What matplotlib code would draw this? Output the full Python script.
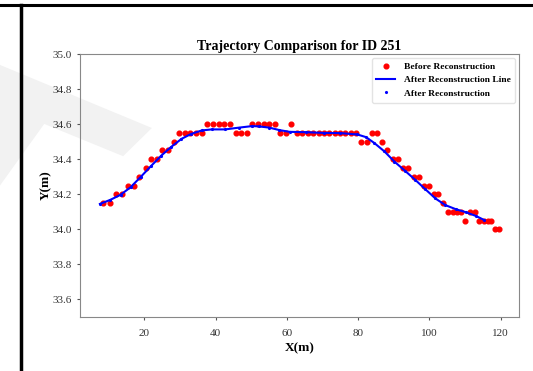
import numpy as np
import matplotlib
matplotlib.use('Agg')
import matplotlib.pyplot as plt
from matplotlib.patches import Polygon
from matplotlib.lines import Line2D

plt.rcParams['font.family'] = ['Liberation Serif', 'DejaVu Serif']

# raw trajectory samples (before reconstruction)
x_before = [8.5, 10.2, 12.0, 13.6, 15.3, 17.0, 18.6, 20.3, 21.8, 23.4,
            25.0, 26.7, 28.2, 29.7, 31.3, 32.8, 34.4, 36.1, 37.7, 39.3,
            40.9, 42.4, 44.0, 45.6, 47.2, 48.7, 50.3, 51.9, 53.5, 55.1,
            56.6, 58.1, 59.7, 61.2, 62.8, 64.3, 65.8, 67.3, 68.9, 70.4,
            71.9, 73.4, 74.8, 76.4, 77.9, 79.3, 80.9, 82.5, 83.9, 85.3,
            86.8, 88.2, 89.7, 91.2, 92.7, 94.1, 95.6, 97.0, 98.4, 99.8,
            101.2, 102.4, 103.7, 105.1, 106.5, 107.7, 108.9, 110.1, 111.4, 112.7,
            113.9, 115.2, 116.4, 117.4, 118.5, 119.6]
y_before = [34.15, 34.15, 34.20, 34.20, 34.25, 34.25, 34.30, 34.35, 34.40, 34.40,
            34.45, 34.45, 34.50, 34.55, 34.55, 34.55, 34.55, 34.55, 34.60, 34.60,
            34.60, 34.60, 34.60, 34.55, 34.55, 34.55, 34.60, 34.60, 34.60, 34.60,
            34.60, 34.55, 34.55, 34.60, 34.55, 34.55, 34.55, 34.55, 34.55, 34.55,
            34.55, 34.55, 34.55, 34.55, 34.55, 34.55, 34.50, 34.50, 34.55, 34.55,
            34.50, 34.45, 34.40, 34.40, 34.35, 34.35, 34.30, 34.30, 34.25, 34.25,
            34.20, 34.20, 34.15, 34.10, 34.10, 34.10, 34.10, 34.05, 34.10, 34.10,
            34.05, 34.05, 34.05, 34.05, 34.00, 34.00]

# smoothed trajectory (after reconstruction)
x_after = [7.5, 10.4, 13.3, 16.1, 19.0, 21.8, 24.7, 27.5, 30.4, 33.2,
           36.1, 38.9, 42.7, 46.5, 50.3, 52.2, 55.1, 57.9, 60.8, 65.5,
           70.3, 75.0, 79.8, 82.2, 84.5, 87.4, 90.2, 93.1, 96.0, 98.8,
           101.7, 104.5, 107.4, 110.2, 113.1, 115.4]
y_after = [34.145, 34.168, 34.197, 34.240, 34.300, 34.360, 34.420, 34.470, 34.516, 34.545,
           34.564, 34.570, 34.570, 34.580, 34.589, 34.587, 34.580, 34.566, 34.556, 34.554,
           34.550, 34.549, 34.541, 34.526, 34.493, 34.444, 34.386, 34.335, 34.283, 34.230,
           34.176, 34.138, 34.115, 34.098, 34.076, 34.053]

fig = plt.figure(figsize=(5.33, 3.71), dpi=100)

# page decorations around the figure
fig.patches.append(Polygon([(0, 0.825), (0.285, 0.655), (0.231, 0.579), (0.083, 0.666), (0, 0.50)],
                           closed=True, transform=fig.transFigure, facecolor='#f2f2f2',
                           edgecolor='none', zorder=-5))
fig.add_artist(Line2D([0, 1], [0.986, 0.986], color='black', lw=2.2, transform=fig.transFigure))
fig.add_artist(Line2D([0.04, 0.04], [0, 0.986], color='black', lw=2.5, transform=fig.transFigure))

ax = fig.add_axes([0.150, 0.1456, 0.824, 0.7088])
ax.set_facecolor('none')

ax.plot(x_before, y_before, 'o', color='red', ms=3.4, label='Before Reconstruction', zorder=2)
ax.plot(x_after, y_after, '-', color='blue', lw=1.5, label='After Reconstruction Line', zorder=3)
ax.plot(x_after, y_after, '.', color='blue', ms=2.5, label='After Reconstruction', zorder=4)

ax.set_ylim(33.5, 35.0)
ax.set_yticks(np.arange(33.6, 35.01, 0.2))
ax.set_xticks([20, 40, 60, 80, 100, 120])

for s in ax.spines.values():
    s.set_color('#888888')
ax.tick_params(colors='#555555', labelsize=8, length=2.5, width=0.8)
ax.tick_params(axis='x', pad=6)
for lbl in ax.get_xticklabels() + ax.get_yticklabels():
    lbl.set_color('#333333')

ax.set_title('Trajectory Comparison for ID 251', fontsize=10, fontweight='bold', pad=3)
ax.set_xlabel('X(m)', fontsize=9.5, fontweight='bold', labelpad=3)
ax.set_ylabel('Y(m)', fontsize=9.5, fontweight='bold', labelpad=0)

leg = ax.legend(loc='upper right', prop={'size': 6.8, 'weight': 'bold'}, frameon=True,
                borderpad=0.5, labelspacing=0.5, handlelength=2.0, handletextpad=0.9,
                borderaxespad=0.4)
leg.get_frame().set_edgecolor('#dddddd')

fig.savefig('out.png', dpi=100)
